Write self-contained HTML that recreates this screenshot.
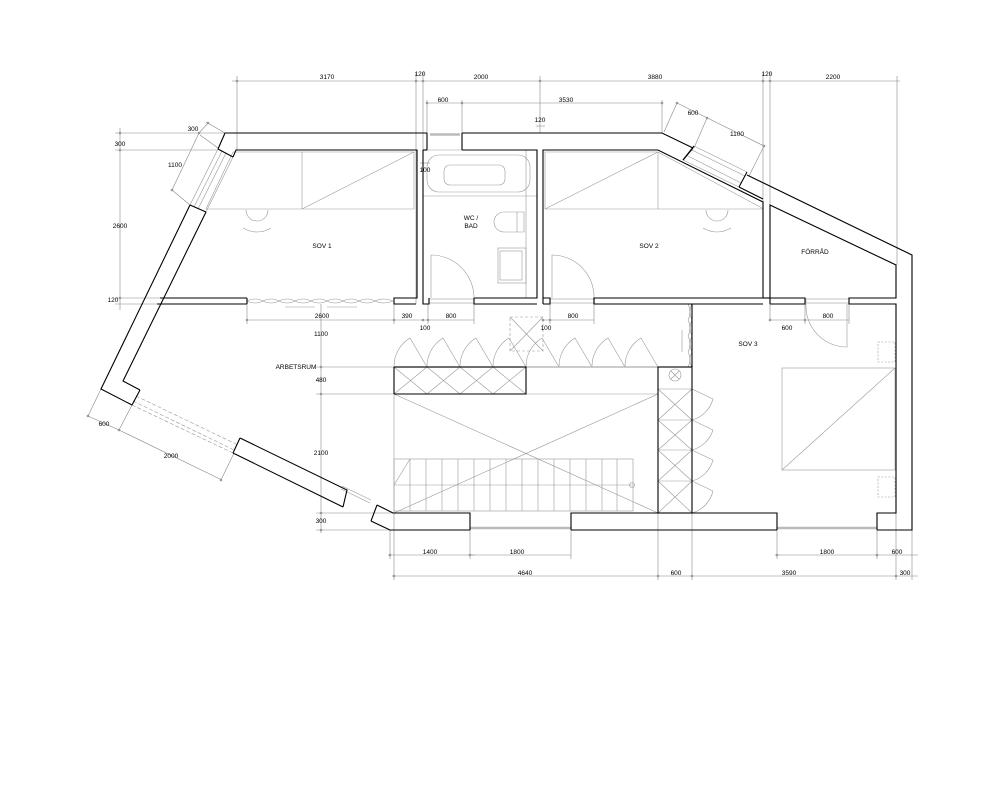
<!DOCTYPE html>
<html><head><meta charset="utf-8"><style>
html,body{margin:0;padding:0;background:#fff;}
svg{display:block;}
text{font-family:"Liberation Sans",sans-serif;font-size:6.5px;fill:#000;text-anchor:middle;}
</style></head><body>
<svg width="1000" height="800" viewBox="0 0 1000 800" xmlns="http://www.w3.org/2000/svg">
<rect width="1000" height="800" fill="#fff"/>

<g stroke="#888" stroke-width="0.6" fill="none">
  <line x1="232" y1="81" x2="900" y2="81"/>
  <line x1="237" y1="76" x2="237" y2="150"/>
  <line x1="416" y1="72" x2="416" y2="304"/>
  <line x1="423" y1="72" x2="423" y2="304"/>
  <line x1="540" y1="76" x2="540" y2="133"/>
  <line x1="763" y1="72" x2="763" y2="202"/>
  <line x1="770" y1="72" x2="770" y2="320"/>
  <line x1="897" y1="76" x2="897" y2="265"/>
  <line x1="427" y1="103" x2="662" y2="103"/>
  <line x1="427" y1="100" x2="427" y2="133"/>
  <line x1="462" y1="100" x2="462" y2="133"/>
  <line x1="662" y1="100" x2="662" y2="133"/>
  <line x1="536" y1="126" x2="545" y2="126"/>
  <line x1="420" y1="163" x2="430" y2="163"/>
  <line x1="120" y1="128" x2="120" y2="310"/>
  <line x1="115" y1="133" x2="225" y2="133"/>
  <line x1="115" y1="150" x2="218" y2="150"/>
  <line x1="115" y1="298" x2="160" y2="298"/>
  <line x1="115" y1="304" x2="160" y2="304"/>
  <line x1="206" y1="122" x2="225" y2="133"/>
  <line x1="200" y1="135" x2="218" y2="148"/>
  <line x1="199" y1="133" x2="172" y2="190"/>
  <line x1="172" y1="190" x2="190" y2="205"/>
  <line x1="199" y1="133" x2="208" y2="123"/>
  <line x1="677" y1="103" x2="664" y2="132"/>
  <line x1="677" y1="103" x2="764" y2="146"/>
  <line x1="707" y1="118" x2="694" y2="148"/>
  <line x1="764" y1="146" x2="749" y2="176"/>
  <line x1="247" y1="320" x2="474" y2="320"/>
  <line x1="247" y1="304" x2="247" y2="324"/>
  <line x1="394" y1="304" x2="394" y2="324"/>
  <line x1="428" y1="304" x2="428" y2="324"/>
  <line x1="474" y1="304" x2="474" y2="324"/>
  <line x1="543" y1="320" x2="594" y2="320"/>
  <line x1="550" y1="304" x2="550" y2="324"/>
  <line x1="594" y1="304" x2="594" y2="324"/>
  <line x1="770" y1="320" x2="849" y2="320"/>
  <line x1="805" y1="304" x2="805" y2="324"/>
  <line x1="849" y1="304" x2="849" y2="324"/>
  <line x1="321" y1="304" x2="321" y2="533"/>
  <line x1="316" y1="367" x2="394" y2="367"/>
  <line x1="316" y1="394" x2="394" y2="394"/>
  <line x1="316" y1="513" x2="394" y2="513"/>
  <line x1="316" y1="530" x2="390" y2="530"/>
  <line x1="388" y1="555" x2="475" y2="555"/>
  <line x1="390" y1="530" x2="390" y2="559"/>
  <line x1="470" y1="513" x2="470" y2="559"/>
  <line x1="470" y1="555" x2="571" y2="555"/>
  <line x1="571" y1="513" x2="571" y2="559"/>
  <line x1="775" y1="555" x2="918" y2="555"/>
  <line x1="777" y1="513" x2="777" y2="559"/>
  <line x1="877" y1="513" x2="877" y2="559"/>
  <line x1="896" y1="513" x2="896" y2="580"/>
  <line x1="912" y1="530" x2="912" y2="580"/>
  <line x1="392" y1="576" x2="918" y2="576"/>
  <line x1="394" y1="513" x2="394" y2="580"/>
  <line x1="658" y1="513" x2="658" y2="580"/>
  <line x1="692" y1="513" x2="692" y2="580"/>
  <line x1="101" y1="389" x2="88" y2="416"/>
  <line x1="88" y1="416" x2="119" y2="430"/>
  <line x1="132" y1="405" x2="119" y2="430"/>
  <line x1="119" y1="430" x2="222" y2="480"/>
  <line x1="234" y1="453" x2="221" y2="480"/>
</g>
<g fill="#999">
  <circle cx="237" cy="81" r="1.3"/><circle cx="416" cy="81" r="1.3"/><circle cx="423" cy="81" r="1.3"/>
  <circle cx="540" cy="81" r="1.3"/><circle cx="763" cy="81" r="1.3"/><circle cx="770" cy="81" r="1.3"/>
  <circle cx="427" cy="103" r="1.3"/><circle cx="462" cy="103" r="1.3"/><circle cx="662" cy="103" r="1.3"/>
  <circle cx="120" cy="133" r="1.3"/><circle cx="120" cy="150" r="1.3"/><circle cx="120" cy="298" r="1.3"/>
  <circle cx="321" cy="367" r="1.3"/><circle cx="321" cy="394" r="1.3"/><circle cx="321" cy="513" r="1.3"/><circle cx="321" cy="530" r="1.3"/>
  <circle cx="247" cy="320" r="1.3"/><circle cx="394" cy="320" r="1.3"/><circle cx="423" cy="320" r="1.3"/><circle cx="428" cy="320" r="1.3"/>
  <circle cx="543" cy="320" r="1.3"/><circle cx="550" cy="320" r="1.3"/><circle cx="770" cy="320" r="1.3"/><circle cx="805" cy="320" r="1.3"/>
  <circle cx="390" cy="555" r="1.3"/><circle cx="470" cy="555" r="1.3"/><circle cx="777" cy="555" r="1.3"/><circle cx="877" cy="555" r="1.3"/>
  <circle cx="394" cy="576" r="1.3"/><circle cx="658" cy="576" r="1.3"/><circle cx="692" cy="576" r="1.3"/><circle cx="896" cy="576" r="1.3"/>
  <circle cx="88" cy="416" r="1.3"/><circle cx="119" cy="430" r="1.3"/><circle cx="221" cy="480" r="1.3"/>
  <circle cx="199" cy="133" r="1.3"/><circle cx="172" cy="190" r="1.3"/><circle cx="208" cy="123" r="1.3"/>
  <circle cx="677" cy="103" r="1.3"/><circle cx="707" cy="118" r="1.3"/><circle cx="764" cy="146" r="1.3"/>
</g>

<g stroke="#999" stroke-width="0.6" fill="none">
  <polygon points="233,152 414,152 414,209 206,209"/>
  <line x1="302" y1="152" x2="302" y2="209"/>
  <line x1="302" y1="209" x2="414" y2="152"/>
  <path d="M246,210 A11,11 0 1 0 268,210"/>
  <path d="M243,228 Q257,236 271,228"/>
  <polygon points="545,152 658,152 762,208 762,209 545,209"/>
  <line x1="658" y1="152" x2="658" y2="209"/>
  <line x1="545" y1="209" x2="658" y2="152"/>
  <path d="M706,210 A11,11 0 1 0 728,210"/>
  <path d="M703,228 Q717,236 731,228"/>
  <rect x="427" y="155" width="103" height="37" rx="12"/>
  <rect x="444" y="165" width="61" height="20" rx="6"/>
  <line x1="423" y1="196" x2="537" y2="196"/>
  <line x1="526" y1="150" x2="526" y2="298"/>
  <path d="M524,212 L504,212 A10,10 0 0 0 504,232 L524,232 Z"/>
  <line x1="517" y1="212" x2="517" y2="232"/>
  <rect x="498" y="248" width="28" height="35"/>
  <rect x="500" y="251" width="22" height="29"/>
  <path d="M431,298 L431,255 A43,43 0 0 1 474,298"/>
  <rect x="429" y="299" width="45" height="4"/>
  <path d="M552,298 L552,255 A42,42 0 0 1 594,298"/>
  <rect x="550" y="299" width="44" height="4"/>
  <path d="M806,304 A41,41 0 0 0 847,347 L847,304"/>
  <rect x="806" y="299" width="43" height="4"/>
  <path d="M247,301 q8,-4 16,0 q8,-4 16,0 q8,-4 16,0 q8,-4 16,0 q8,-4 16,0 q8,-4 16,0 q8,-4 16,0 q8,-4 16,0 q8,-4 18,0"/>
  <path d="M247,301 q8,4 16,0 q8,4 16,0 q8,4 16,0 q8,4 16,0 q8,4 16,0 q8,4 16,0 q8,4 16,0 q8,4 16,0 q8,4 18,0"/>
  <line x1="285" y1="307" x2="315" y2="307"/>
  <line x1="327" y1="307" x2="357" y2="307"/>
  <rect x="510" y="317" width="33" height="34" stroke-dasharray="3,2"/>
  <line x1="510" y1="317" x2="543" y2="351"/><line x1="543" y1="317" x2="510" y2="351"/>
  <path d="M394,367 A33,33 0 0 1 410,338 L427,367 A33,33 0 0 1 443,338 L460,367 A33,33 0 0 1 476,338 L493,367 A33,33 0 0 1 509,338 L526,367 A33,33 0 0 1 542,338 L559,367 A33,33 0 0 1 575,338 L592,367 A33,33 0 0 1 608,338 L625,367 A33,33 0 0 1 641,338 L658,367"/>
  <line x1="394" y1="367" x2="658" y2="367" stroke="#bbb" stroke-width="1.5"/>
  <line x1="394" y1="394" x2="658" y2="394"/>
  <path d="M394,367 L427,394 M427,367 L394,394 M427,367 L460,394 M460,367 L427,394 M460,367 L493,394 M493,367 L460,394 M493,367 L526,394 M526,367 L493,394"/>
  <line x1="394" y1="394" x2="394" y2="513"/>
  <line x1="394" y1="394" x2="658" y2="513"/>
  <line x1="394" y1="513" x2="658" y2="394"/>
  <rect x="394" y="459" width="239" height="52"/>
  <path d="M410,459 V511 M426,459 V511 M442,459 V511 M458,459 V511 M474,459 V511 M490,459 V511 M506,459 V511 M522,459 V511 M538,459 V511 M554,459 V511 M570,459 V511 M586,459 V511 M602,459 V511 M617,459 V511"/>
  <line x1="394" y1="485" x2="633" y2="485"/>
  <line x1="394" y1="485" x2="410" y2="459"/>
  <circle cx="632" cy="485" r="2.5"/>
  <line x1="658" y1="389" x2="692" y2="389"/>
  <line x1="658" y1="420" x2="692" y2="420"/>
  <line x1="658" y1="450" x2="692" y2="450"/>
  <line x1="658" y1="481" x2="692" y2="481"/>
  <path d="M658,389 L692,420 M692,389 L658,420 M658,420 L692,450 M692,420 L658,450 M658,450 L692,481 M692,450 L658,481 M658,481 L692,513 M692,481 L658,513"/>
  <circle cx="675" cy="375" r="6"/>
  <path d="M671,371 L679,379 M679,371 L671,379"/>
  <path d="M692,389 L713,399 A30,30 0 0 1 692,420 M692,420 L713,430 A30,30 0 0 1 692,450 M692,450 L713,460 A30,30 0 0 1 692,481 M692,481 L713,491 A30,30 0 0 1 692,513"/>
  <path d="M688,304 q4,8 0,16 q4,8 0,16 q4,8 0,16 q4,8 0,15"/>
  <path d="M692,304 q-4,8 0,16 q-4,8 0,16 q-4,8 0,16 q-4,8 0,15"/>
  <line x1="682" y1="330" x2="682" y2="352"/>
  <rect x="782" y="368" width="113" height="102"/>
  <line x1="782" y1="470" x2="895" y2="368"/>
  <rect x="878" y="342" width="17" height="20" stroke-dasharray="2,1.5"/>
  <rect x="878" y="477" width="17" height="20" stroke-dasharray="2,1.5"/>
  <path d="M218,149 L190,205 M222,151 L194,207 M226,153 L198,209 M233,157 L206,212"/>
  <path d="M694,146 L747,172 M692,150 L745,176 M686,155 L741,183 M683,160 L739,187"/>
  <path d="M132,405 L233,453 M133,401 L234,450 M136,396 L238,445" stroke-dasharray="4,2"/>
  <path d="M341,489 L370,503 M342,486 L371,500"/>
  <line x1="470" y1="528" x2="571" y2="528" stroke="#bbb" stroke-width="2.5"/>
  <line x1="777" y1="528" x2="877" y2="528" stroke="#bbb" stroke-width="2.5"/>
  <line x1="430" y1="134.5" x2="460" y2="134.5" stroke="#bbb" stroke-width="2.5"/>
  <line x1="427" y1="150" x2="462" y2="150"/>
  <line x1="571" y1="513" x2="777" y2="513"/>
  <line x1="394" y1="513" x2="470" y2="513"/>
  <line x1="877" y1="513" x2="896" y2="513"/>
</g>

<g stroke="#000" stroke-width="1.1" fill="none">
  <polyline points="225,133 427,133"/>
  <polyline points="462,133 662,133 693,148"/>
  <polyline points="747,175 912,255 912,530 877,530"/>
  <polyline points="777,530 571,530"/>
  <polyline points="470,530 390,530 371,521"/>
  <polyline points="343,507 233,453"/>
  <polyline points="132,405 101,389 190,205"/>
  <polyline points="218,149 225,133"/>
  <polyline points="233,157 236,150 417,150 417,298 394,298 394,304 416,304"/>
  <polyline points="206,212 123,381 140,390"/>
  <line x1="218" y1="149" x2="233" y2="157"/>
  <line x1="190" y1="205" x2="206" y2="212"/>
  <polyline points="247,298 160,298"/>
  <polyline points="247,304 157,304"/>
  <line x1="247" y1="298" x2="247" y2="304"/>
  <line x1="140" y1="390" x2="132" y2="405"/>
  <polyline points="240,438 347,490 343,507"/>
  <line x1="240" y1="438" x2="233" y2="453"/>
  <polyline points="377,505 393,513 470,513 470,530"/>
  <line x1="377" y1="505" x2="371" y2="521"/>
  <polyline points="423,150 423,304 429,304 429,298"/>
  <polyline points="427,133 427,150"/>
  <polyline points="462,133 462,150"/>
  <polyline points="474,298 474,304 537,304"/>
  <polyline points="474,298 537,298 537,150 462,150"/>
  <line x1="427" y1="150" x2="423" y2="150"/>
  <polyline points="543,304 550,304 550,298 543,298 543,150 658,150 763,202 763,298 594,298 594,304 763,304"/>
  <line x1="543" y1="298" x2="543" y2="304"/>
  <line x1="594" y1="298" x2="594" y2="304"/>
  <line x1="694" y1="146" x2="683" y2="160"/>
  <line x1="747" y1="172" x2="739" y2="187"/>
  <line x1="693" y1="148" x2="683" y2="160"/>
  <polyline points="739,187 763,199"/>
  <polyline points="770,304 770,205 896,265 896,298 849,298 849,304 896,304 896,513 877,513 877,530"/>
  <polyline points="770,298 805,298 805,304 770,304"/>
  <line x1="763" y1="298" x2="770" y2="298"/>
  <polyline points="571,530 571,513 777,513 777,530"/>
  <line x1="394" y1="367" x2="394" y2="394"/>
  <polyline points="394,367 526,367 526,394 394,394"/>
  <rect x="658" y="367" width="34" height="146"/>
  <line x1="692" y1="304" x2="692" y2="367"/>
</g>

<text x="327" y="79">3170</text>
<text x="420" y="76">120</text>
<text x="481" y="79">2000</text>
<text x="655" y="79">3880</text>
<text x="767" y="76">120</text>
<text x="833" y="79">2200</text>
<text x="443" y="102">600</text>
<text x="566" y="102">3530</text>
<text x="540" y="122">120</text>
<text x="425" y="172">100</text>
<text x="120" y="146">300</text>
<text x="120" y="228">2600</text>
<text x="113" y="302">120</text>
<text x="193" y="131">300</text>
<text x="175" y="167">1100</text>
<text x="693" y="115">600</text>
<text x="737" y="136">1100</text>
<text x="322" y="318">2600</text>
<text x="407" y="318">390</text>
<text x="425" y="330">100</text>
<text x="451" y="318">800</text>
<text x="321" y="336">1100</text>
<text x="546" y="330">100</text>
<text x="573" y="318">800</text>
<text x="787" y="330">600</text>
<text x="828" y="318">800</text>
<text x="321" y="382">480</text>
<text x="321" y="455">2100</text>
<text x="321" y="523">300</text>
<text x="104" y="426">600</text>
<text x="171" y="458">2000</text>
<text x="430" y="554">1400</text>
<text x="517" y="554">1800</text>
<text x="827" y="554">1800</text>
<text x="897" y="554">600</text>
<text x="525" y="575">4640</text>
<text x="676" y="575">600</text>
<text x="789" y="575">3590</text>
<text x="905" y="575">300</text>
<text x="322" y="248">SOV 1</text>
<text x="471" y="220">WC /</text>
<text x="471" y="228">BAD</text>
<text x="649" y="248">SOV 2</text>
<text x="815" y="254">FÖRRÅD</text>
<text x="748" y="346">SOV 3</text>
<text x="296" y="369">ARBETSRUM</text>
</svg>
</body></html>
